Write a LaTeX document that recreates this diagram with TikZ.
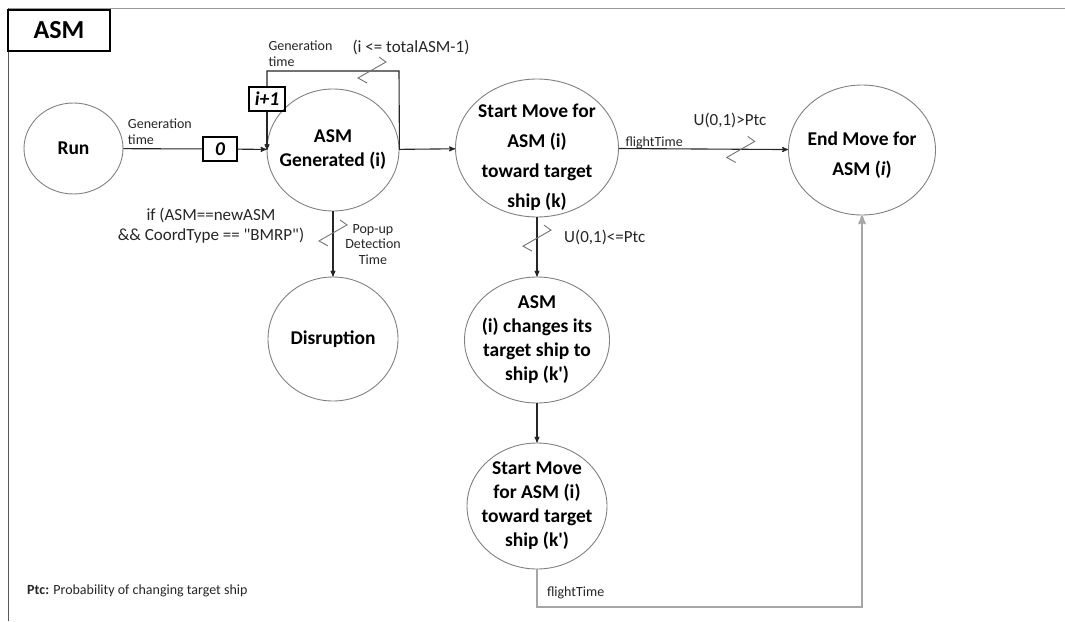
\documentclass[tikz,border=0pt]{standalone}
\usepackage{fontspec}
\setmainfont{Carlito}
\usetikzlibrary{arrows,shapes.geometric,calc}

\begin{document}
\begin{tikzpicture}[x=1pt,y=-1pt,>=stealth',
  evt/.style={ellipse,draw=black!50,line width=0.9pt,inner sep=0pt},
  evtxt/.style={font=\bfseries\fontsize{19.5}{24}\selectfont,align=center,inner sep=0pt},
  valbox/.style={draw,line width=1.3pt,inner sep=0pt,font=\bfseries\itshape\fontsize{19.5}{22}\selectfont},
  lbl/.style={font=\fontsize{14}{15.5}\selectfont,text=black!85,inner sep=1pt},
  cnd/.style={font=\fontsize{17}{20}\selectfont,text=black!85,inner sep=1pt},
  flow/.style={draw=black!85,line width=1.1pt},
  condmark/.pic={\draw[black!55,line width=0.9pt] (7,-13) -- (14,-8) -- (-14,8) -- (-5,13);}]

\useasboundingbox (0,0) rectangle (1065,621);

% frame and title
\draw[black!40,line width=1pt] (8,8) -- (1065,8);
\draw[black!65,line width=1pt] (8,8) -- (8,621);
\node[draw,line width=1.3pt,minimum width=102,minimum height=41,font=\bfseries\fontsize{26}{28}\selectfont] (title) at (59,30.5) {ASM};

% events
\node[evt,minimum width=99,minimum height=91,label={[evtxt]center:Run}] (run) at (73.5,148.5) {};
\node[evt,minimum width=132,minimum height=122,label={[evtxt]center:ASM\\Generated (i)}] (gen) at (333,150) {};
\node[evt,minimum width=130,minimum height=124,label={[evtxt]center:Disruption}] (dis) at (333,339) {};
\node[evt,minimum width=163,minimum height=138,label={[evtxt,yshift=-9pt]center:Start Move for\\[6pt]ASM (i)\\[6pt]toward target\\[6pt]ship (k)}] (sm) at (537,148) {};
\node[evt,minimum width=147,minimum height=130,label={[evtxt,yshift=-5pt]center:End Move for\\[6pt]ASM (\textit{i})}] (em) at (862,150) {};
\node[evt,minimum width=145,minimum height=126,label={[evtxt]center:ASM\\(i) changes its\\target ship to\\ship (k\textquotesingle)}] (chg) at (537,340) {};
\node[evt,minimum width=140,minimum height=126,label={[evtxt]center:Start Move\\for ASM (i)\\toward target\\ship (k\textquotesingle)}] (smk) at (537,506) {};

% counter boxes
\node[valbox,minimum width=34,minimum height=24] (b0) at (220,149) {0};
\node[valbox,minimum width=36,minimum height=24] (bi) at (267,99) {i+1};
\coordinate (looptop) at (399,71);
\coordinate (bot) at (700,607);

\draw[flow] (run) -- node[lbl,pos=0,anchor=south west,align=left,xshift=3pt,yshift=3pt]{Generation\\time} (b0);
\path[flow,->] (b0) edge (gen)
  (gen) edge (sm)
  (gen) edge (dis)
  (sm) edge node[lbl,pos=0,anchor=south west,xshift=5pt,yshift=-2pt]{flightTime} (em)
  (sm) edge (chg)
  (chg) edge (smk);

% self loop
\draw[flow] (gen.east) -- (looptop) -| node[lbl,pos=0.5,anchor=south west,align=left,yshift=3pt]{Generation\\time} (bi.north);
\draw[flow,->] (bi.south) -- (bi.south |- gen.west);
\node[cnd] at ($(looptop)+(12,-24)$) {(i <= totalASM-1)};
\pic at ($(looptop)+(-27,-1)$) {condmark};

% pop-up
\node[cnd,align=center] at ($(gen.south)+(-122,14)$) {if (ASM==newASM\\\&\& CoordType == \textquotedbl BMRP\textquotedbl)};
\node[lbl,align=center] at ($(gen.south)+(40,33)$) {Pop-up\\Detection\\Time};
\pic at ($(gen.south)!0.33!(dis.north)$) {condmark};

% target change
\node[cnd] at (730,120) {U(0,1)>Ptc};
\pic at ($(sm.east)!0.72!(em.west)$) {condmark};
\node[cnd,anchor=west] at (563,237) {U(0,1)<=Ptc};
\pic at ($(sm.south)!0.35!(chg.north)$) {condmark};

\draw[black!35,line width=2pt,->] (smk.south) |- node[lbl,pos=0.5,anchor=south west,xshift=8pt,yshift=6pt]{flightTime} (bot) -| (em.south);

\node[lbl,anchor=west] (legend) at (26,591) {\textbf{Ptc:} Probability of changing target ship};
\end{tikzpicture}
\end{document}
